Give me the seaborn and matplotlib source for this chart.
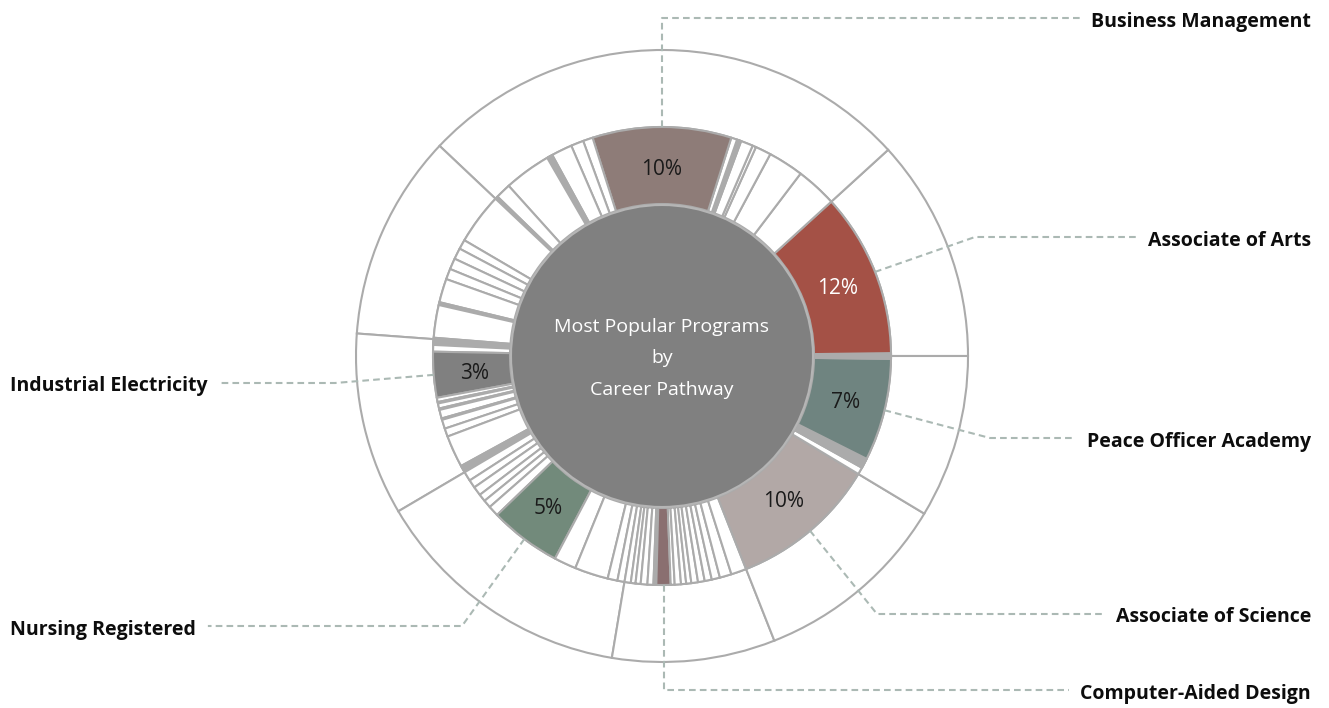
import numpy as np
import matplotlib
matplotlib.use("Agg")
import matplotlib.pyplot as plt
from matplotlib.patches import Circle
import seaborn as sns

# ---------------- data (shares of enrolment, %) ----------------
# career pathways (outer ring), counter-clockwise from 3 o'clock;
# each list holds its programs (middle ring) in the same order
pathway_arts = [0.1, 0.1, 11.55]
pathway_business = [2.89, 2.50, 1.11, 0.25, 0.86, 0.1, 0.1, 0.1, 0.42, 9.78,
                    0.69, 0.89, 1.47, 0.1, 0.1, 0.1, 0.1, 3.31, 1.08, 0.1, 0.1]
pathway_trades = [3.61, 0.67, 0.78, 0.78, 0.75, 1.67, 0.1, 0.1, 2.30, 0.1]
pathway_industrial = [0.1, 0.1, 0.1, 0.1, 0.47, 3.22, 0.30, 0.1, 0.36, 0.1,
                      0.61, 0.1, 0.64, 0.58, 2.25, 0.1, 0.1, 0.1, 0.1, 0.1]
pathway_health = [0.67, 0.58, 0.64, 0.53, 0.56, 0.75, 5.05, 1.56, 2.36, 0.69, 0.50]
pathway_design = [0.44, 0.33, 0.36, 0.47, 0.42, 0.1, 0.1, 1.00, 0.28, 0.44,
                  0.36, 0.36, 0.47, 0.47, 0.50, 0.58, 0.83, 1.08]
pathway_science = [10.39]
pathway_public = [0.50, 0.1, 0.1, 0.1, 0.1, 0.1, 0.1, 0.1, 7.20, 0.1, 0.1]

pathways = [pathway_arts, pathway_business, pathway_trades, pathway_industrial,
            pathway_health, pathway_design, pathway_science, pathway_public]

# highlighted programs: name, pathway index, position within pathway
highlight_names = ["Associate of Arts", "Business Management", "Industrial Electricity",
                   "Nursing Registered", "Computer-Aided Design",
                   "Associate of Science", "Peace Officer Academy"]
highlight_pathway = [0, 1, 3, 4, 5, 6, 7]
highlight_position = [2, 9, 5, 6, 7, 0, 8]
highlight_show_pct = [True, True, True, True, False, True, True]
highlight_colors = ["#a45146", "#8e7c78", "#808080", "#728a7b", "#8a6f70",
                    "#b2a8a6", "#6f8480"]
highlight_text_colors = ["white", "#1a1a1a", "#1a1a1a", "#1a1a1a", "#1a1a1a",
                         "#1a1a1a", "#1a1a1a"]
center_lines = ["Most Popular Programs", "by", "Career Pathway"]

# ---------------- layout (pixels) ----------------
W, H = 1329, 708
CX, CY_PX = 662, 356
R_IN, R_MID, R_OUT = 152, 229, 306
# leader elbows (None = straight vertical from slice) and label rows
elbow_x = [975, None, 335, 462, None, 877, 990]
label_y = [237, 18, 383, 626, 690, 614, 438]
label_side = ["right", "right", "left", "left", "right", "right", "right"]

sns.set_theme(style="white")
plt.rcParams["font.family"] = ["Open Sans", "DejaVu Sans"]

EDGE = "#ababab"
LW = 1.5
LEADER = "#abb9b4"

fig = plt.figure(figsize=(W / 100, H / 100), dpi=100)
ax = fig.add_axes([0, 0, 1, 1])
cy = H - CY_PX
center = (CX, cy)

# outer ring: pathways
totals = [sum(p) for p in pathways]
ax.pie(totals, radius=R_OUT, center=center, startangle=0, counterclock=True,
       colors=["white"] * len(totals), frame=True,
       wedgeprops=dict(width=R_OUT - R_MID, edgecolor=EDGE, linewidth=LW))

# middle ring: programs
values, colors = [], []
flat_index = {}
for pi, prog in enumerate(pathways):
    for j, v in enumerate(prog):
        flat_index[(pi, j)] = len(values)
        values.append(v)
        colors.append("white")
for k in range(len(highlight_names)):
    colors[flat_index[(highlight_pathway[k], highlight_position[k])]] = highlight_colors[k]
ax.pie(values, radius=R_MID, center=center, startangle=0, counterclock=True,
       colors=colors, frame=True,
       wedgeprops=dict(width=R_MID - R_IN, edgecolor=EDGE, linewidth=LW))

# centre disc
ax.add_patch(Circle(center, R_IN - 1, facecolor="#808080", edgecolor="#b5b5b5",
                    linewidth=LW, zorder=3))
for off, line in zip([-31, 0, 32], center_lines):
    ax.text(CX, cy - off - 2, line, ha="center", va="center", color="white",
            fontsize=14, zorder=4)

ax.set_xlim(0, W)
ax.set_ylim(0, H)
ax.set_aspect("equal")
ax.axis("off")

total = sum(values)
cum = np.concatenate([[0], np.cumsum(values)]) / total * 360.0
renderer = fig.canvas.get_renderer()
for k, name in enumerate(highlight_names):
    idx = flat_index[(highlight_pathway[k], highlight_position[k])]
    mid = np.deg2rad((cum[idx] + cum[idx + 1]) / 2)
    pct = values[idx] / total * 100
    r_lab = (R_IN + R_MID) / 2 - 2
    if highlight_show_pct[k]:
        ax.text(CX + r_lab * np.cos(mid), cy + r_lab * np.sin(mid) - 2, f"{pct:.0f}%",
                ha="center", va="center", fontsize=15, color=highlight_text_colors[k],
                zorder=5)
    # label text
    ly = H - label_y[k]
    if label_side[k] == "right":
        t = ax.text(1311, ly - 8.5, name, ha="right", va="baseline", fontsize=14,
                    fontweight="bold", color="#0d0d0d")
    else:
        t = ax.text(10, ly - 8.5, name, ha="left", va="baseline", fontsize=14,
                    fontweight="bold", color="#0d0d0d")
    bb = t.get_window_extent(renderer=renderer)
    sx, sy = CX + R_MID * np.cos(mid), cy + R_MID * np.sin(mid)
    ex = sx if elbow_x[k] is None else elbow_x[k]
    endx = bb.x0 - 11 if label_side[k] == "right" else bb.x1 + 12
    ax.plot([sx, ex, endx], [sy, ly, ly], color=LEADER, lw=1.5,
            ls=(0, (3.2, 2)), zorder=6, solid_capstyle="butt")

fig.savefig("out.png", dpi=100, facecolor="white")
